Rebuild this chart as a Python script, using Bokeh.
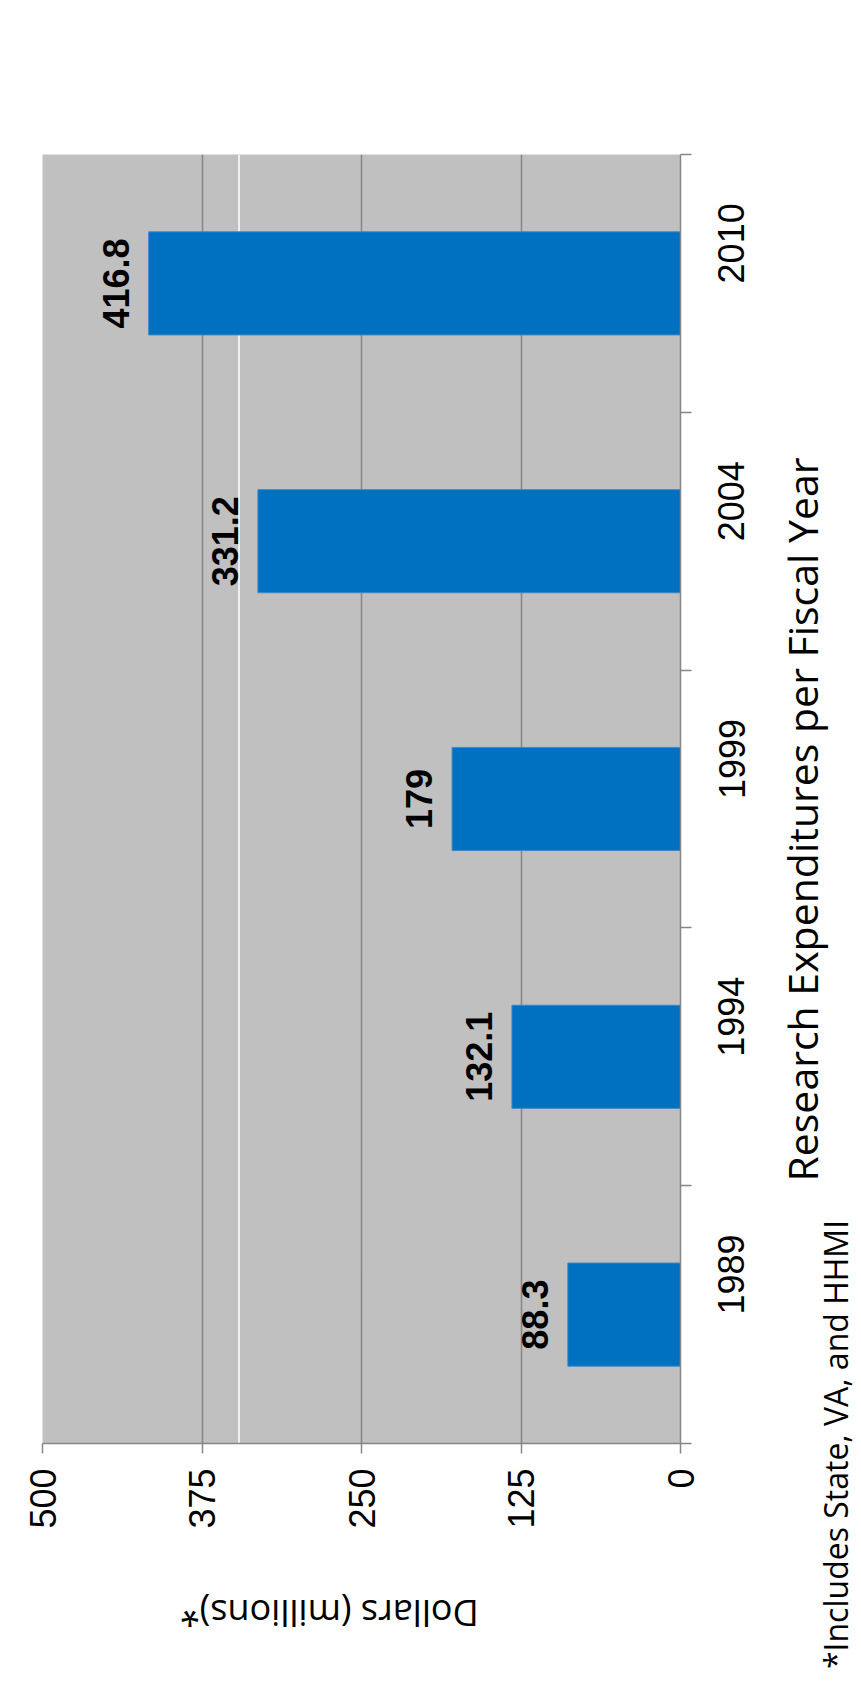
import math
from bokeh.plotting import figure
from bokeh.layouts import row, column
from bokeh.models import (FactorRange, Range1d, LinearAxis, FixedTicker,
                          LabelSet, Label, Span, ColumnDataSource)
from bokeh.core.properties import value
from bokeh.embed import file_html
from bokeh.resources import INLINE

# ---- data ----
years = ["1989", "1994", "1999", "2004", "2010"]
expenditures = [88.3, 132.1, 179, 331.2, 416.8]
value_ticks = [0, 125, 250, 375, 500]
grid_ticks = [125, 250, 375, 500]
white_rule = 346
value_title = "Dollars (millions)*"
category_title = "Research Expenditures per Fiscal Year"
footnote = "*Includes State, VA, and HHMI"

BAR = "#0070C0"
BG = "#C0C0C0"
GRID = "#868686"

src = ColumnDataSource(dict(years=years, vals=expenditures,
                            labels=[f"{v:g}" for v in expenditures]))

n = len(years)
band_edges = list(range(n + 1))            # category boundaries (synthetic coords)
band_centers = [i + 0.5 for i in range(n)]  # category centres (synthetic coords)

TOTAL_W, TOTAL_H = 861, 1705

# ---------------- main chart ----------------
PW, PH = 772, 1553
p = figure(width=PW, height=PH,
           x_range=Range1d(500, 0),
           y_range=FactorRange(factors=years, range_padding=0),
           output_backend="svg", toolbar_location=None,
           x_axis_location=None, y_axis_location=None,
           min_border_left=42, min_border_top=154,
           min_border_right=PW - 680, min_border_bottom=PH - 1443,
           background_fill_color=BG, border_fill_color="white",
           outline_line_color=None)

p.xgrid.ticker = FixedTicker(ticks=grid_ticks)
p.xgrid.grid_line_color = GRID
p.xgrid.grid_line_width = 1.5
p.ygrid.visible = False

p.add_layout(Span(location=white_rule, dimension="height", line_color="white",
                  line_width=1.5, level="underlay"))

p.hbar(y="years", left=0, right="vals", height=0.4, source=src,
       fill_color=BAR, line_color="#3a88cc", line_width=1)

# value axis (bottom)
xaxis = LinearAxis(ticker=FixedTicker(ticks=value_ticks))
xaxis.axis_line_color = GRID
xaxis.axis_line_width = 1.5
xaxis.major_tick_line_color = GRID
xaxis.major_tick_line_width = 1.5
xaxis.major_tick_in = 0
xaxis.major_tick_out = 10
xaxis.minor_tick_in = 0
xaxis.minor_tick_out = 0
xaxis.major_label_orientation = math.pi / 2
xaxis.major_label_text_font = "Liberation Sans"
xaxis.major_label_text_font_size = "36px"
xaxis.major_label_text_color = "black"
xaxis.major_label_standoff = 15
p.add_layout(xaxis, "below")

# category axis (right): labels at band centres, ticks at band boundaries
yaxis = LinearAxis(ticker=FixedTicker(ticks=band_centers, minor_ticks=band_edges),
                   major_label_overrides={c: y for c, y in zip(band_centers, years)})
yaxis.axis_line_color = GRID
yaxis.axis_line_width = 1.5
yaxis.major_tick_line_color = None
yaxis.major_tick_in = 0
yaxis.major_tick_out = 0
yaxis.minor_tick_line_color = GRID
yaxis.minor_tick_line_width = 1.5
yaxis.minor_tick_in = 0
yaxis.minor_tick_out = 11
yaxis.major_label_orientation = math.pi / 2
yaxis.major_label_text_font = "Liberation Sans"
yaxis.major_label_text_font_size = "36px"
yaxis.major_label_text_color = "black"
yaxis.major_label_standoff = 40
p.add_layout(yaxis, "right")

# value labels
p.add_layout(LabelSet(x="vals", y="years", text="labels", source=src,
                      x_offset=-33, angle=math.pi / 2,
                      text_align="center", text_baseline="middle",
                      text_font=value("Liberation Sans"), text_font_style="bold",
                      text_font_size="36px", text_color="black"))

# ---------------- bottom text strip ----------------
RW, RH = PW, TOTAL_H - PH
r = figure(width=RW, height=RH, x_range=Range1d(0, RW), y_range=Range1d(RH, 0),
           output_backend="svg", toolbar_location=None,
           x_axis_location=None, y_axis_location=None, min_border=0,
           outline_line_color=None, background_fill_color="white",
           border_fill_color="white")
r.xgrid.visible = False
r.ygrid.visible = False
r.add_layout(Label(x=347, y=60, text=value_title, angle=math.pi,
                   text_align="center", text_baseline="middle",
                   text_font="Open Sans", text_font_size="36px",
                   text_color="black"))

# ---------------- right text strip ----------------
QW, QH = TOTAL_W - PW, TOTAL_H
q = figure(width=QW, height=QH, x_range=Range1d(0, QW), y_range=Range1d(QH, 0),
           output_backend="svg", toolbar_location=None,
           x_axis_location=None, y_axis_location=None, min_border=0,
           outline_line_color=None, background_fill_color="white",
           border_fill_color="white")
q.xgrid.visible = False
q.ygrid.visible = False
q.add_layout(Label(x=29, y=819, text=category_title, angle=math.pi / 2,
                   text_align="center", text_baseline="middle",
                   text_font="Open Sans", text_font_size="41px",
                   text_color="black"))
q.add_layout(Label(x=63, y=1444, text=footnote, angle=math.pi / 2,
                   text_align="center", text_baseline="middle",
                   text_font="Open Sans", text_font_size="32px",
                   text_color="black"))

layout = row(column(p, r), q)
open("out.html", "w").write(file_html(layout, INLINE))
